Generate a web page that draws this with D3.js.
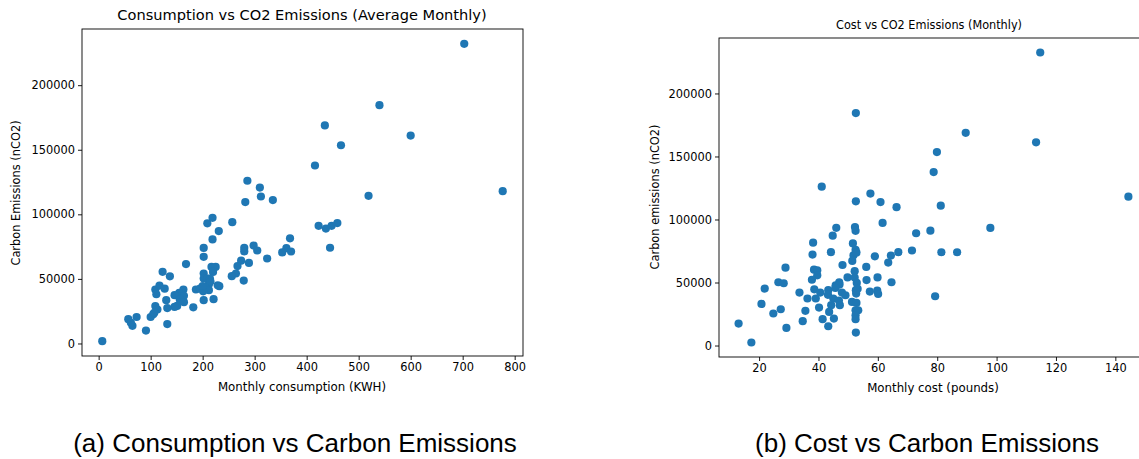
<!DOCTYPE html>
<html><head><meta charset="utf-8">
<script src="https://cdn.jsdelivr.net/npm/d3@7"></script>
<style>body{margin:0;background:#fff}svg{display:block}</style>
</head><body><svg id="c" width="1139" height="459"></svg>
<script>
// Left: monthly consumption (KWH) vs carbon emissions
const consumptionKWH = [703,540,435,600,466,416,777,519,286,310,312,282,335,423,437,448,459,445,368,361,353,370,257,209,219,231,219,202,202,168,123,137,280,280,298,305,324,274,267,289,264,256,279,217,225,220,202,202,209,214,229,232,212,212,187,195,201,202,221,182,163,155,146,164,156,164,151,146,109,117,127,111,130,132,109,113,105,100,107,132,91,57,65,73,62,7,200,215];
const consumptionCO2 = [232000,184500,168800,161000,153500,137800,117900,114300,126000,120700,113800,109500,111000,91100,89000,91100,93200,74100,81400,73800,70500,71200,93900,93000,97300,87000,80600,74000,67100,61500,55500,52000,74000,71300,75800,72000,65800,64100,59900,62400,54200,52100,48700,59300,59300,55400,54200,50300,50300,50300,45100,44400,45900,41300,41800,42400,40400,33500,34300,28000,41800,39200,37400,36900,34000,32000,29100,28300,41800,44800,42400,38100,33500,27400,29000,26300,22700,20500,23700,15000,10000,18800,13700,20500,16000,1800,44500,48000];
// Right: monthly cost (pounds) vs carbon emissions
const costPounds = [114.7,52.6,89.6,113.3,79.9,78.8,41.1,57.5,52.6,60.9,66.3,81.2,144.4,97.9,61.6,46,52.3,52.5,44.8,72.9,77.7,38.2,38,44.2,51.6,52.5,51.8,51.4,52.8,59,64.4,66.9,71.5,81.4,86.7,63.5,56.1,28.9,48.1,38.5,39.6,39.6,37.8,49.8,52.2,52.2,52.9,53.2,56.2,59.9,64.6,26.5,28.3,21.9,33.6,36.3,38.6,39.1,40.6,43.3,43.2,45.8,47,47.1,45.7,47.9,49.1,45,46.9,44.3,47.2,51.3,52.8,52.7,52.6,57.3,59.8,60.1,79.3,20.8,40.2,43.6,41.4,45.2,43.3,52.5,53.4,52.5,52.5,52.6,24.8,27.3,35.6,34.7,29.2,13.1,17.4];
const costCO2 = [232500,184400,168800,161200,153500,137600,126000,120600,114400,113800,109800,111000,118100,93300,97300,93400,94000,91000,87200,89100,91100,81600,72200,74100,81000,76000,71600,67100,73800,70800,71400,74100,75400,74000,74000,65800,62400,61800,63900,60200,59700,55700,52200,54000,59000,53900,49700,45000,51900,54000,50200,50200,49400,45200,42000,37300,44600,37300,42000,43900,40200,47800,50200,48400,45700,42000,39900,37300,35700,32000,32000,34600,33800,41200,43900,42800,43500,40900,39100,33000,30100,26700,20900,21400,15300,28000,28000,24000,20900,10300,25400,28800,27500,19300,14000,17400,2400];

const leftXTicks = [0,100,200,300,400,500,600,700,800];
const rightXTicks = [20,40,60,80,100,120,140];
const yTicks = [0,50000,100000,150000,200000];

const titles = ["Consumption vs CO2 Emissions (Average Monthly)", "Cost vs CO2 Emissions (Monthly)"];
const xLabels = ["Monthly consumption (KWH)", "Monthly cost (pounds)"];
const yLabels = ["Carbon Emissions (nCO2)", "Carbon emissions (nCO2)"];
const captions = ["(a) Consumption vs Carbon Emissions", "(b) Cost vs Carbon Emissions"];

const svg = d3.select("#c");
const color = "#1f77b4";
const DV = "'DejaVu Sans', sans-serif";

function panel(cfg){
  const g = svg.append("g").style("font-family", DV);
  const x = d3.scaleLinear().domain(cfg.xd).range([cfg.l, cfg.r]);
  const y = d3.scaleLinear().domain(cfg.yd).range([cfg.b, cfg.t]);
  g.append("g").selectAll("circle").data(cfg.xs.map((v,i)=>[v,cfg.ys[i]])).join("circle")
    .attr("cx", d=>x(d[0])).attr("cy", d=>y(d[1])).attr("r", 4.1).attr("fill", color);
  const ax = g.append("g").attr("transform", `translate(0,${cfg.b})`)
    .call(d3.axisBottom(x).tickValues(cfg.xt).tickSize(4).tickPadding(3).tickFormat(d3.format("d")));
  const ay = g.append("g").attr("transform", `translate(${cfg.l},0)`)
    .call(d3.axisLeft(y).tickValues(yTicks).tickSize(4).tickPadding(3).tickFormat(d3.format("d")));
  [ax, ay].forEach(a=>{
    a.select(".domain").remove();
    a.selectAll("text").style("font-family", DV).attr("font-size", 11.4).attr("fill","#000");
    a.selectAll("line").attr("stroke","#000").attr("stroke-width",0.9);
  });
  g.append("rect").attr("x", cfg.l).attr("y", cfg.t).attr("width", cfg.r-cfg.l).attr("height", cfg.b-cfg.t)
    .attr("fill","none").attr("stroke","#000").attr("stroke-width",0.9);
  const t = g.append("text").attr("x", cfg.tx).attr("y", cfg.ty).attr("text-anchor","middle")
    .attr("font-size", cfg.tfs).text(cfg.title);
  if (cfg.tlen) t.attr("textLength", cfg.tlen).attr("lengthAdjust", "spacingAndGlyphs");
  g.append("text").attr("x", cfg.xlx).attr("y", cfg.xly).attr("text-anchor","middle")
    .attr("font-size", 11.8).text(cfg.xlabel);
  g.append("text").attr("transform", `translate(${cfg.ylx},${cfg.yly}) rotate(-90)`).attr("text-anchor","middle")
    .attr("font-size", 11.4).text(cfg.ylabel);
  svg.append("text").attr("x", cfg.cx).attr("y", 452).attr("text-anchor","middle")
    .style("font-family","'Liberation Sans', Arial, sans-serif").attr("font-size", 26).text(cfg.caption);
}

panel({xs: consumptionKWH, ys: consumptionCO2, xd:[-32,816], yd:[-9700,243500], l:82, r:523, t:29, b:356,
  xt: leftXTicks, title: titles[0], tx: 302, ty: 20, tfs: 14.6, xlabel: xLabels[0], xlx: 302, xly: 391,
  ylabel: yLabels[0], ylx: 20, yly: 193, caption: captions[0], cx: 295});
panel({xs: costPounds, ys: costCO2, xd:[6.5,151], yd:[-9100,244000], l:719, r:1148, t:38, b:357,
  xt: rightXTicks, title: titles[1], tx: 929, ty: 29, tfs: 13, tlen: 186, xlabel: xLabels[1], xlx: 933, xly: 392,
  ylabel: yLabels[1], ylx: 659, yly: 197, caption: captions[1], cx: 927});
</script></body></html>
